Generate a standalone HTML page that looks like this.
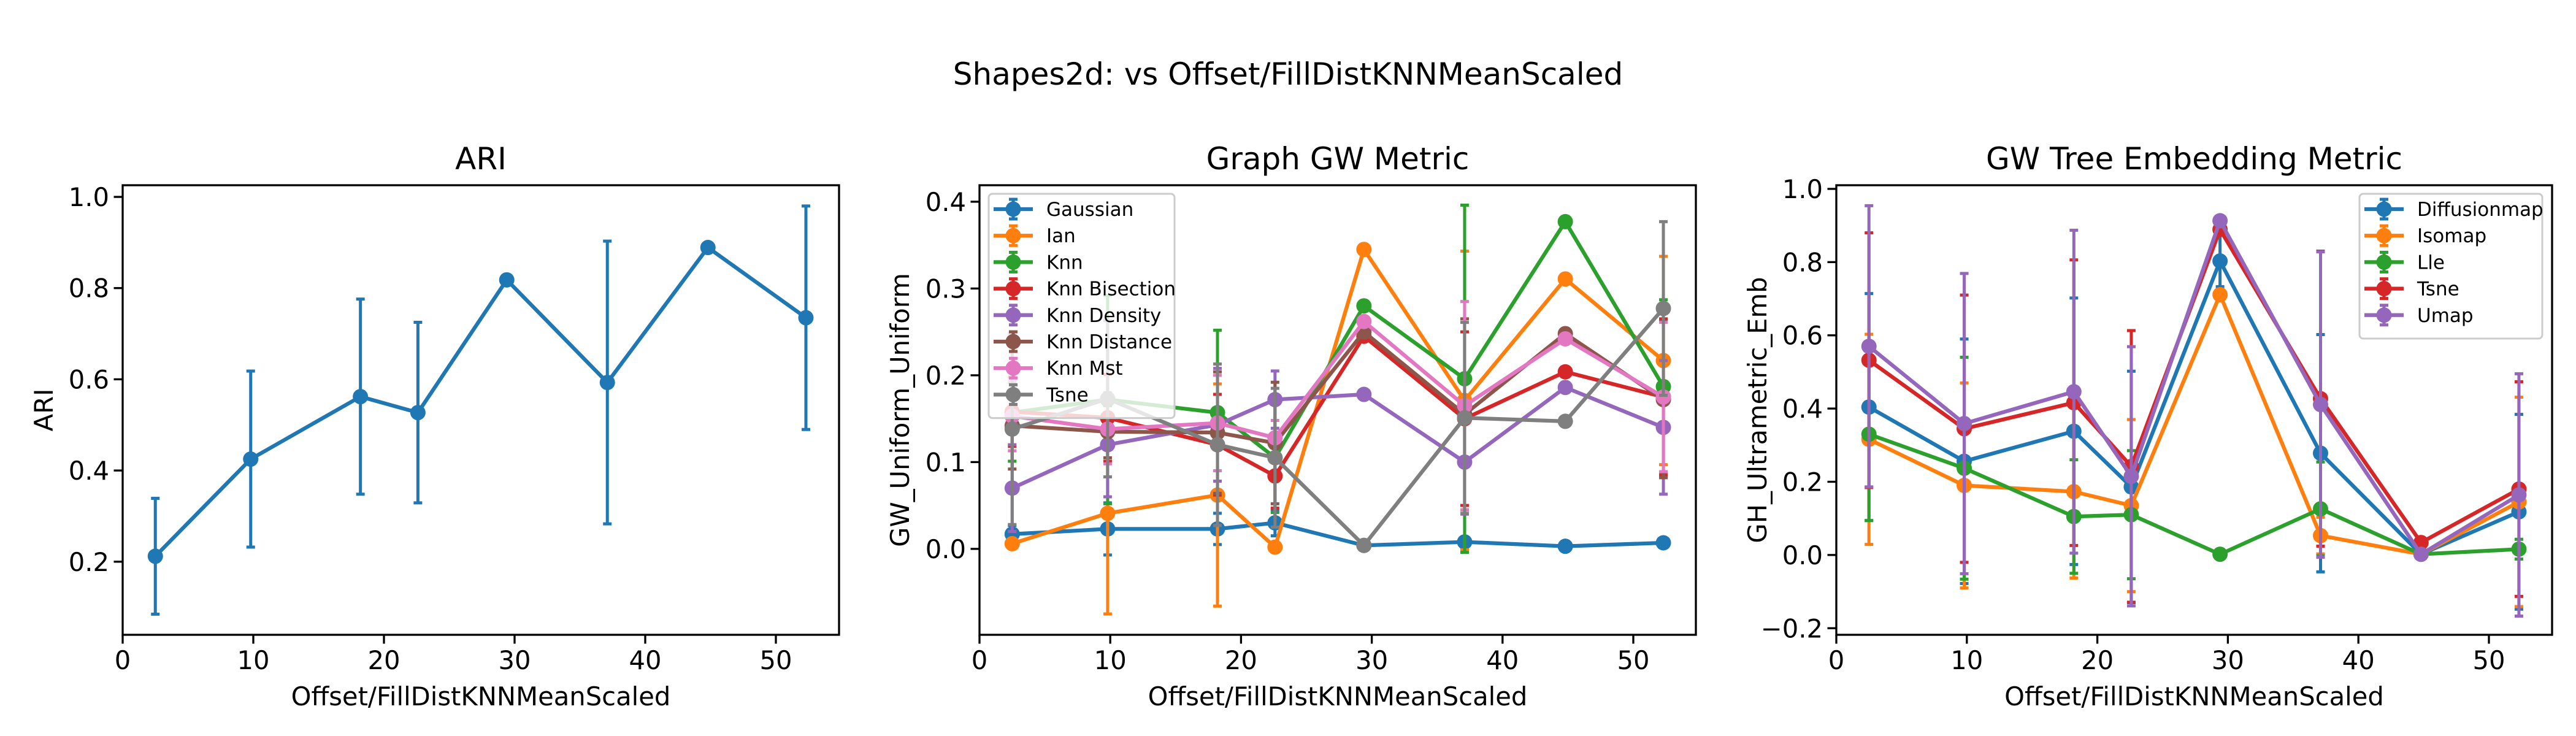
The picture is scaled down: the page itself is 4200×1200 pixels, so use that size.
<!DOCTYPE html>
<html><head><meta charset="utf-8">
<style>
html,body{margin:0;padding:0;background:#fff;}
svg{display:block;font-family:"DejaVu Sans","Liberation Sans",sans-serif;}
</style></head>
<body>
<svg id="fig" xmlns="http://www.w3.org/2000/svg" width="4200" height="1200" viewBox="0 0 4200 1200">
<rect width="4200" height="1200" fill="#fff"/>
<text x="2100" y="138" font-size="50" text-anchor="middle">Shapes2d: vs Offset/FillDistKNNMeanScaled</text>
</svg>
<script>
const xVals = [2.5, 9.8, 18.2, 22.6, 29.4, 37.1, 44.8, 52.3];

// Panel 1: ARI
const ariMean = [0.212, 0.425, 0.562, 0.527, 0.818, 0.593, 0.889, 0.735];
const ariErr  = [0.127, 0.193, 0.214, 0.198, 0.0, 0.31, 0.0, 0.245];

// Panel 2: Graph GW Metric
const gwNames = ["Gaussian","Ian","Knn","Knn Bisection","Knn Density","Knn Distance","Knn Mst","Tsne"];
const gwGaussian = [0.017,0.023,0.023,0.030,0.004,0.008,0.003,0.007];
const gwGaussianErr = [0.01,0.03,0.018,0.015,0.0,0.004,0.0,0.003];
const gwIan = [0.006,0.041,0.062,0.002,0.345,0.171,0.311,0.217];
const gwIanErr = [0.005,0.116,0.128,0.0,0.0,0.172,0.0,0.12];
const gwKnn = [0.157,0.172,0.157,0.105,0.28,0.196,0.377,0.187];
const gwKnnErr = [0.056,0.12,0.095,0.063,0.0,0.2,0.0,0.1];
const gwBis = [0.158,0.151,0.12,0.084,0.245,0.15,0.204,0.175];
const gwBisErr = [0.04,0.05,0.058,0.037,0.0,0.1,0.0,0.09];
const gwDen = [0.07,0.12,0.143,0.172,0.178,0.1,0.186,0.14];
const gwDenErr = [0.05,0.06,0.065,0.033,0.0,0.06,0.0,0.077];
const gwDist = [0.142,0.135,0.134,0.122,0.25,0.155,0.248,0.172];
const gwDistErr = [0.05,0.03,0.07,0.07,0.0,0.11,0.0,0.09];
const gwMst = [0.153,0.138,0.145,0.128,0.262,0.165,0.242,0.175];
const gwMstErr = [0.04,0.04,0.055,0.02,0.0,0.12,0.0,0.086];
const gwTsne = [0.138,0.173,0.12,0.105,0.004,0.151,0.147,0.277];
const gwTsneErr = [0.11,0.09,0.093,0.08,0.0,0.11,0.0,0.1];

// Panel 3: GW Tree Embedding Metric
const teNames = ["Diffusionmap","Isomap","Lle","Tsne","Umap"];
const teDiff = [0.404,0.256,0.338,0.186,0.803,0.278,0.002,0.118];
const teDiffErr = [0.31,0.334,0.364,0.316,0.07,0.324,0.0,0.266];
const teIso = [0.316,0.19,0.173,0.135,0.711,0.053,0.002,0.145];
const teIsoErr = [0.287,0.28,0.236,0.235,0.0,0.05,0.0,0.286];
const teLle = [0.33,0.237,0.105,0.11,0.002,0.126,0.002,0.016];
const teLleErr = [0.236,0.303,0.155,0.175,0.0,0.128,0.0,0.027];
const teTsne = [0.532,0.345,0.416,0.242,0.889,0.427,0.034,0.18];
const teTsneErr = [0.348,0.365,0.39,0.371,0.0,0.403,0.0,0.293];
const teUmap = [0.57,0.359,0.446,0.215,0.913,0.411,0.002,0.164];
const teUmapErr = [0.384,0.41,0.441,0.354,0.0,0.417,0.0,0.331];

const xTicks = [0,10,20,30,40,50];
const ariTicks = [0.2,0.4,0.6,0.8,1.0];
const gwTicks = [0.0,0.1,0.2,0.3,0.4];
const teTicks = [-0.2,0.0,0.2,0.4,0.6,0.8,1.0];

const C = ["#1f77b4","#ff7f0e","#2ca02c","#d62728","#9467bd","#8c564b","#e377c2","#7f7f7f"];
const svg = document.getElementById('fig');
const NS = "http://www.w3.org/2000/svg";
function mk(tag, attrs, parent){
  const e = document.createElementNS(NS, tag);
  for (const k in attrs) e.setAttribute(k, attrs[k]);
  (parent||svg).appendChild(e);
  return e;
}

function panel(cfg){
  const g = mk('g', {});
  
  
  const L=cfg.left, R=cfg.right, T=302, B=1035;
  const xs = v => L + v*cfg.xpx;
  const ys = v => B - (v - cfg.ymin)/(cfg.ymax - cfg.ymin)*(B-T);
  cfg.series.forEach((s, si) => {
    const sg = mk('g', {}, g);
    
    
    xVals.forEach((x, i) => {
      if (s.e[i] <= 0) return;
      const lo = ys(s.y[i]-s.e[i]), hi = ys(s.y[i]+s.e[i]), px = xs(x);
      const eb = mk('path', {d:`M${px},${lo}V${hi}M${px-7},${lo}H${px+7}M${px-7},${hi}H${px+7}`, stroke:s.color, 'stroke-width':5, fill:'none'}, sg);
      
      
    });
    const pts = xVals.map((x,i)=>xs(x)+','+ys(s.y[i])).join(' ');
    const ln = mk('polyline', {points:pts, fill:'none', stroke:s.color, 'stroke-width':6.25, 'stroke-linejoin':'round'}, sg);
    
    
    xVals.forEach((x,i)=>{
      const c = mk('circle', {cx:xs(x), cy:ys(s.y[i]), r:12.5, fill:s.color}, sg);
      
      
    });
  });
  const fr = mk('rect', {x:L, y:T, width:R-L, height:B-T, fill:'none', stroke:'#000', 'stroke-width':3.3}, g);
  
  
  xTicks.forEach(t=>{
    const px = xs(t);
    mk('line', {x1:px, x2:px, y1:B, y2:B+14.5, stroke:'#000', 'stroke-width':3.3}, g);
    const tl = mk('text', {x:px, y:B+56, 'font-size':41.7, 'text-anchor':'middle'}, g);
    tl.textContent = t;
    
    
  });
  cfg.yticks.forEach(t=>{
    const py = ys(t);
    mk('line', {x1:L-14.5, x2:L, y1:py, y2:py, stroke:'#000', 'stroke-width':3.3}, g);
    const tl = mk('text', {x:L-22, y:py+15, 'font-size':41.7, 'text-anchor':'end'}, g);
    tl.textContent = (t<0?'\u2212':'') + Math.abs(t).toFixed(1);
    
    
  });
  const ti = mk('text', {x:(L+R)/2, y:276, 'font-size':50, 'text-anchor':'middle'}, g);
  ti.textContent = cfg.title;
  
  
  const xl = mk('text', {x:(L+R)/2, y:1150, 'font-size':41.7, 'text-anchor':'middle'}, g);
  xl.textContent = 'Offset/FillDistKNNMeanScaled';
  
  
  const yl = mk('text', {x:0, y:0, 'font-size':41.7, 'text-anchor':'middle', transform:`translate(${cfg.ylx},${(T+B)/2}) rotate(-90)`}, g);
  yl.textContent = cfg.ylabel;
  
  
  if (cfg.legend){
    const lg = mk('g', {}, g);
    
    
    const n = cfg.series.length;
    const lx = cfg.legend.x, ly = 316, lw = cfg.legend.w, lh = 20 + n*43.2;
    mk('rect', {x:lx, y:ly, width:lw, height:lh, rx:6, fill:'#fff', 'fill-opacity':0.8, stroke:'#ccc', 'stroke-width':3}, lg);
    cfg.series.forEach((s,i)=>{
      const ry = 341 + i*43.2;
      const e = mk('g', {}, lg);
      
      
      mk('line', {x1:lx+8, x2:lx+72, y1:ry, y2:ry, stroke:s.color, 'stroke-width':6.25}, e);
      mk('path', {d:`M${lx+40},${ry-16}V${ry+16}M${lx+33},${ry-16}H${lx+47}M${lx+33},${ry+16}H${lx+47}`, stroke:s.color, 'stroke-width':5}, e);
      mk('circle', {cx:lx+40, cy:ry, r:12.5, fill:s.color}, e);
      const t = mk('text', {x:lx+94, y:ry+11, 'font-size':31}, e);
      t.textContent = s.label;
    });
  }
}

panel({name:'ari-panel', title:'ARI', ylabel:'ARI', left:200, right:1368, xpx:21.3, ymin:0.0397, ymax:1.0256, yticks:ariTicks, ylx:86,
  series:[{label:'ARI', y:ariMean, e:ariErr, color:C[0]}]});

const gwY = [gwGaussian,gwIan,gwKnn,gwBis,gwDen,gwDist,gwMst,gwTsne];
const gwE = [gwGaussianErr,gwIanErr,gwKnnErr,gwBisErr,gwDenErr,gwDistErr,gwMstErr,gwTsneErr];
panel({name:'graph-gw-panel', title:'Graph GW Metric', ylabel:'GW_Uniform_Uniform', left:1597, right:2765, xpx:21.32, ymin:-0.099, ymax:0.419, yticks:gwTicks, ylx:1482,
  series: gwNames.map((n,i)=>({label:n, y:gwY[i], e:gwE[i], color:C[i]})), legend:{x:1612, w:303}});

const teY = [teDiff,teIso,teLle,teTsne,teUmap];
const teE = [teDiffErr,teIsoErr,teLleErr,teTsneErr,teUmapErr];
panel({name:'tree-embedding-panel', title:'GW Tree Embedding Metric', ylabel:'GH_Ultrametric_Emb', left:2994, right:4161, xpx:21.28, ymin:-0.218, ymax:1.010, yticks:teTicks, ylx:2880,
  series: teNames.map((n,i)=>({label:n, y:teY[i], e:teE[i], color:C[i]})), legend:{x:3847, w:298}});
</script>
</body></html>
